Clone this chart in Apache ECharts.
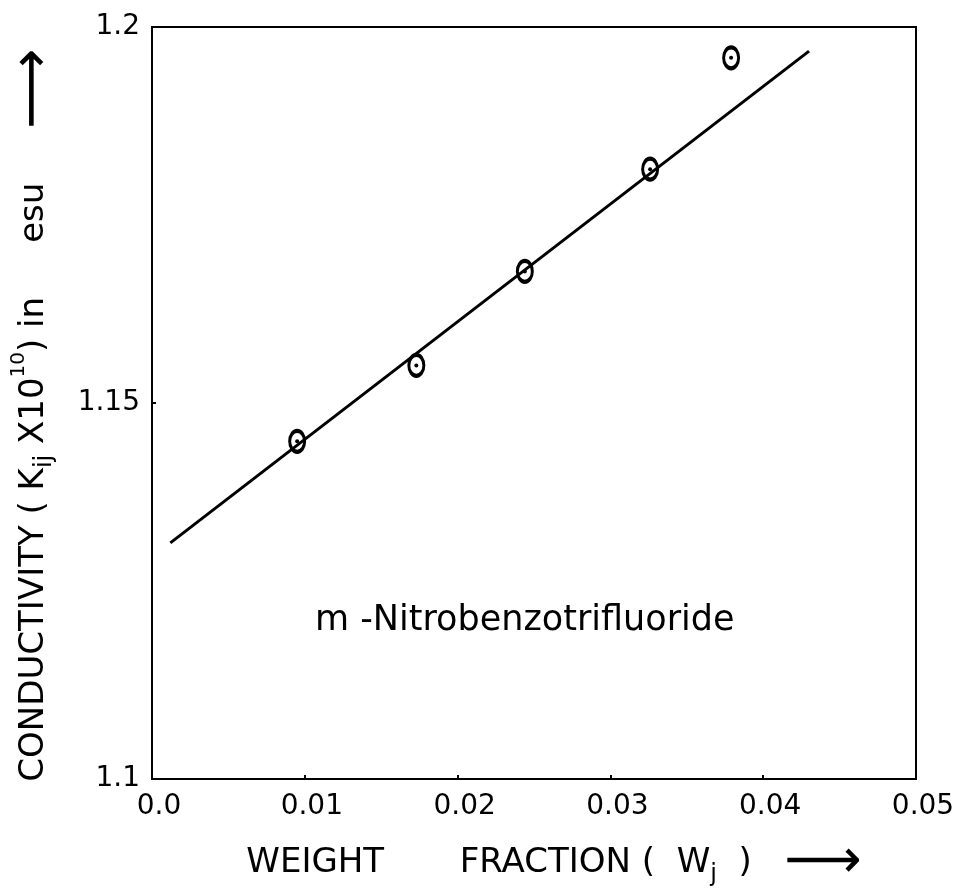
<!DOCTYPE html>
<html>
<head>
<meta charset="utf-8">
<script src="https://cdn.jsdelivr.net/npm/echarts@6/dist/echarts.min.js"></script>
<style>html,body{margin:0;padding:0;background:#fff}#c{width:966px;height:895px}</style>
</head>
<body>
<div id="c"></div>
<script>
const xTicks = ['0.0', '0.01', '0.02', '0.03', '0.04', '0.05'];
const yTicks = ['1.1', '1.15', '1.2'];
const weightFraction = [0.0095, 0.0173, 0.0244, 0.0326, 0.0379];
const conductivity = [1.1449, 1.1550, 1.1675, 1.1811, 1.1959];
const fitW = [0.0012, 0.0430];
const fitK = [1.1314, 1.1968];
const compound = 'm -Nitrobenzotrifluoride';

const FONT = 'DejaVu Sans';
const pts = weightFraction.map((w, i) => [w, conductivity[i]]);
const fit = fitW.map((w, i) => [w, fitK[i]]);

const chart = echarts.init(document.getElementById('c'), null, {renderer: 'canvas'});
chart.setOption({
  animation: false,
  backgroundColor: '#fff',
  grid: {left: 152, right: 50, top: 27, bottom: 116, show: true, borderColor: '#000', borderWidth: 2,
         containLabel: false, outerBoundsMode: 'none'},
  xAxis: {
    type: 'value', min: 0, max: 0.05, interval: 0.01,
    axisLine: {show: true, lineStyle: {color: '#000', width: 2}},
    axisTick: {show: true, inside: true, length: 4, lineStyle: {color: '#000', width: 2}},
    splitLine: {show: false},
    axisLabel: {
      color: '#000', fontFamily: FONT, fontSize: 28, margin: 14, padding: [0, 0, 0, 14],
      formatter: v => xTicks[Math.round(v / 0.01)]
    },
    name: 'WEIGHT       FRACTION (  W{sub|j}  )   {arr|⟶}',
    nameLocation: 'middle', nameGap: 64,
    nameTextStyle: {
      color: '#000', fontFamily: FONT, fontSize: 34, lineHeight: 40, padding: [0, 0, 0, 40],
      rich: {
        sub: {fontSize: 24, fontFamily: FONT, color: '#000', lineHeight: 40, padding: [24, 0, 0, 0]},
        arr: {fontSize: 54, fontFamily: FONT, color: '#000', lineHeight: 40}
      }
    }
  },
  yAxis: {
    type: 'value', min: 1.1, max: 1.2, interval: 0.05,
    axisLine: {show: true, lineStyle: {color: '#000', width: 2}},
    axisTick: {show: true, inside: true, length: 4, lineStyle: {color: '#000', width: 2}},
    splitLine: {show: false},
    axisLabel: {
      color: '#000', fontFamily: FONT, fontSize: 28, margin: 12,
      formatter: v => yTicks[Math.round((v - 1.1) / 0.05)]
    },
    name: 'CONDUCTIVITY ( K{sub|ij} X10{sup|10}) in     esu     {arr|⟶}',
    nameLocation: 'middle', nameGap: 98, nameRotate: 90,
    nameTextStyle: {
      color: '#000', fontFamily: FONT, fontSize: 34, lineHeight: 40, padding: [0, 24, 0, 0],
      rich: {
        sub: {fontSize: 24, fontFamily: FONT, color: '#000', lineHeight: 40, padding: [0, 0, -22, 0]},
        sup: {fontSize: 20, fontFamily: FONT, color: '#000', lineHeight: 40, padding: [0, 0, 30, 0]},
        arr: {fontSize: 56, fontFamily: FONT, color: '#000', lineHeight: 40}
      }
    }
  },
  graphic: [{
    type: 'text', left: 315, top: 603,
    style: {text: compound, fill: '#000', font: '35px "DejaVu Sans"'}
  }],
  series: [
    {
      type: 'line', data: fit, symbol: 'none', silent: true,
      lineStyle: {color: '#000', width: 3}, z: 2
    },
    {
      type: 'scatter', data: pts, symbol: 'circle', symbolSize: [15, 21],
      itemStyle: {color: 'rgba(0,0,0,0)', borderColor: '#000', borderWidth: 3.5, opacity: 1}, z: 3
    },
    {
      type: 'scatter', data: pts, symbol: 'circle', symbolSize: 4,
      itemStyle: {color: '#000', opacity: 1}, z: 4
    }
  ]
});
</script>
</body>
</html>
